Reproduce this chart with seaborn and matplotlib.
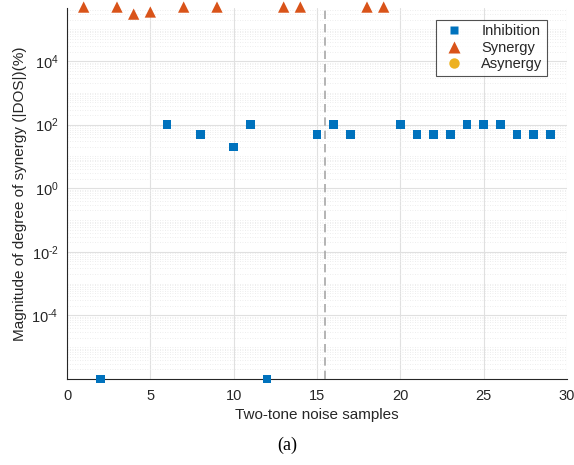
import numpy as np
import pandas as pd
import matplotlib
matplotlib.use("Agg")
import matplotlib.pyplot as plt
import matplotlib.ticker as mticker
from matplotlib.lines import Line2D
import seaborn as sns

# ---- data ----
inhib_x = [2, 6, 8, 10, 11, 12, 15, 16, 17, 20, 21, 22, 23, 24, 25, 26, 27, 28, 29]
inhib_y = [1e-6, 100, 50, 20, 100, 1e-6, 50, 100, 50, 100, 50, 50, 50, 100, 100, 100, 50, 50, 50]
syn_x = [1, 3, 4, 5, 7, 9, 13, 14, 18, 19]
syn_y = [5e5, 5e5, 3e5, 3.5e5, 5e5, 5e5, 5e5, 5e5, 5e5, 5e5]
asyn_x = []
asyn_y = []
series_names = ["Inhibition", "Synergy", "Asynergy"]
colors = ["#0072BD", "#D95319", "#EDB120"]
markers = ["s", "^", "o"]
xticks = [0, 5, 10, 15, 20, 25, 30]
yticks = [1e-4, 1e-2, 1e0, 1e2, 1e4]
split_x = 15.5

sns.set_style("white")
plt.rcParams["font.family"] = ["Liberation Sans", "DejaVu Sans"]
plt.rcParams["mathtext.fontset"] = "custom"
plt.rcParams["mathtext.rm"] = "Liberation Sans"
plt.rcParams["mathtext.it"] = "Liberation Sans"
plt.rcParams["mathtext.bf"] = "Liberation Sans"

txt = "#262626"
fig = plt.figure(figsize=(5.74, 4.65), dpi=100)
ax = fig.add_axes([67/574, 1-379/465, 500/574, (379-8)/465])

df_i = pd.DataFrame({"x": inhib_x, "y": inhib_y})
df_s = pd.DataFrame({"x": syn_x, "y": syn_y})
sns.scatterplot(data=df_i, x="x", y="y", ax=ax, marker=markers[0], color=colors[0],
                s=38, edgecolor="none", clip_on=False, zorder=5)
sns.scatterplot(data=df_s, x="x", y="y", ax=ax, marker=markers[1], color=colors[1],
                s=66, edgecolor="none", clip_on=False, zorder=5)

ax.set_yscale("log")
ax.set_xlim(0, 30)
ax.set_ylim(1e-6, 10**5.67)
ax.axvline(split_x, color="#a8a8a8", linestyle=(0, (5, 3)), linewidth=1.2, zorder=3)

def fmt(v, pos):
    e = int(round(np.log10(v)))
    es = r"\text{-}" + str(-e) if e < 0 else str(e)
    return r"$10^{" + es + "}$"

ax.set_xticks(xticks)
ax.yaxis.set_major_locator(mticker.FixedLocator(yticks))
ax.yaxis.set_major_formatter(mticker.FuncFormatter(fmt))
ax.yaxis.set_minor_locator(mticker.LogLocator(base=10, subs=np.arange(1, 10), numticks=100))
ax.yaxis.set_minor_formatter(mticker.NullFormatter())

ax.grid(True, which="major", color="#e0e0e0", linewidth=0.8, zorder=0)
ax.grid(True, which="minor", axis="y", color="#e8e8e8", linestyle=(0, (1, 2)), linewidth=0.6, zorder=0)
ax.set_axisbelow(True)

for side in ["top", "right"]:
    ax.spines[side].set_visible(False)
for side in ["left", "bottom"]:
    ax.spines[side].set_color("#262626")
    ax.spines[side].set_linewidth(0.8)

ax.tick_params(axis="both", which="both", direction="in", colors="#262626", labelsize=10.5, labelcolor=txt)
ax.tick_params(axis="both", which="major", length=4)
ax.tick_params(axis="x", which="major", pad=7)
ax.tick_params(axis="y", which="major", pad=6)
ax.tick_params(axis="y", which="minor", length=2)

ax.set_xlabel("Two-tone noise samples", fontsize=11, color=txt, labelpad=4)
ax.set_ylabel("Magnitude of degree of synergy (|DOS|)(%)", fontsize=11, color=txt, labelpad=3)

handles = [Line2D([], [], linestyle="none", marker=m, color=c, markersize=ms, markeredgecolor="none")
           for m, c, ms in zip(markers, colors, [6, 8.5, 7.5])]
leg = ax.legend(handles, series_names, loc="upper left", bbox_to_anchor=(369/500, 1-12/371),
                frameon=True, fancybox=False, fontsize=10.5, handletextpad=1.0,
                borderpad=0.3, labelspacing=0.17, handlelength=1.8, borderaxespad=0)
leg.get_frame().set_edgecolor("#262626")
leg.get_frame().set_linewidth(0.8)
for t in leg.get_texts():
    t.set_color(txt)

fig.text(287/574, 1-445/465, "(a)", ha="center", va="center", fontsize=13,
         family=["Liberation Serif", "DejaVu Serif"], color="black")

fig.savefig("out.png", dpi=100)
